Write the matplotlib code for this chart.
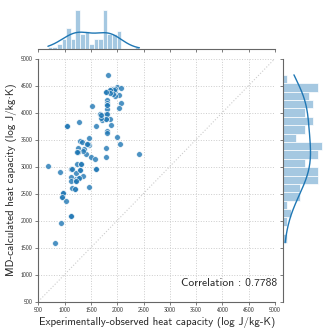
import numpy as np
import matplotlib
matplotlib.use("Agg")
import matplotlib.pyplot as plt
import seaborn as sns

# experimental (x) vs MD-calculated (y) heat capacity
exp_cp = [1825, 1781, 1921, 1952, 2003, 2068, 2035, 1870, 2072, 2035,
          1806, 1813, 1800, 1806, 1527, 1673, 1705, 1794, 1857, 1794,
          1876, 1800, 1806, 1603, 1051, 1279, 2003, 2062, 1463, 1286,
          1336, 1419, 1463, 1248, 1368, 1241, 1413, 1787, 1508, 1584,
          1781, 2422, 1241, 1305, 1114, 1133, 1286, 1590, 683, 905,
          1222, 1114, 1210, 1273, 1356, 1114, 1210, 1203, 1463, 975,
          956, 1032, 1114, 930, 810,
          # overlapping points
          1950, 1930, 1960, 1920, 1860, 1870, 1781, 1800, 1806, 1794,
          1690, 1700, 1590, 1440, 1419, 1305, 1356, 1248, 1241, 1286,
          1273, 1210, 1133, 1203, 975, 956, 1051, 1114]
md_cp = [4697, 4377, 4438, 4395, 4469, 4457, 4327, 4420, 4173, 4087,
         4223, 4173, 4130, 4060, 4118, 3964, 3853, 3964, 3884, 3884,
         3775, 3650, 3619, 3750, 3750, 3816, 3545, 3422, 3520, 3465,
         3446, 3409, 3403, 3341, 3323, 3268, 3237, 3348, 3175, 3132,
         3175, 3237, 3040, 3040, 2960, 2953, 2941, 2960, 3009, 2904,
         2880, 2805, 2775, 2793, 2818, 2731, 2731, 2590, 2614, 2516,
         2429, 2355, 2090, 1949, 1590,
         4440, 4420, 4300, 4350, 4420, 4370, 4377, 4130, 3970, 3884,
         3900, 3960, 2960, 3420, 3409, 3050, 3280, 3260, 3268, 2941,
         2793, 2731, 2600, 2590, 2516, 2430, 3750, 2090]
corr_text = "Correlation : 0.7788"
ticks = np.arange(500, 5001, 500)

sns.set_style("ticks")
plt.rcParams['font.family'] = ['cmss10', 'DejaVu Sans']
plt.rcParams['axes.unicode_minus'] = False

W = 332.0
fig = plt.figure(figsize=(3.32, 3.32), dpi=100)
ax = fig.add_axes([38.3/W, 30.5/W, 236.7/W, 243/W])
ax_top = fig.add_axes([38.3/W, 282.7/W, 236.7/W, 41.3/W], sharex=ax)
ax_right = fig.add_axes([282.7/W, 30.5/W, 41.3/W, 243/W], sharey=ax)

blue = "#1f77b4"
ax.plot([500, 5000], [500, 5000], ls=":", color="0.8", lw=0.8, zorder=0)
ax.scatter(exp_cp, md_cp, s=17, color=blue, alpha=0.8, edgecolor="white", linewidth=0.5, zorder=3)
ax.set_xlim(500, 5000)
ax.set_ylim(500, 5000)
ax.set_xticks(ticks)
ax.set_yticks(ticks)
ax.grid(True, ls=":", color="0.8", lw=0.7)
ax.tick_params(labelsize=4.2, length=2.5, width=0.6, color="0.4", pad=1.5)
for s in ["top", "right"]:
    ax.spines[s].set_visible(False)
for s in ["left", "bottom"]:
    ax.spines[s].set_color("0.4")
    ax.spines[s].set_linewidth(0.8)
ax.set_xlabel("Experimentally-observed heat capacity (log J/kg-K)", fontsize=7.9, labelpad=3)
ax.set_ylabel("MD-calculated heat capacity (log J/kg\u00b7K)", fontsize=7.9, labelpad=3)

hist_kw = dict(bins=20, kde=True, color=blue, alpha=0.4, edgecolor="white", linewidth=0.5,
               kde_kws={"cut": 0, "bw_adjust": 1.5}, line_kws={"lw": 1.0})
sns.histplot(x=exp_cp, ax=ax_top, **hist_kw)
sns.histplot(y=md_cp, ax=ax_right, **hist_kw)

for a in [ax_top, ax_right]:
    a.set_xlabel("")
    a.set_ylabel("")
    a.tick_params(labelbottom=False, labelleft=False, length=2.5, width=0.6, color="0.4")
ax_top.set_yticks([])
ax_right.set_xticks([])
for s in ["top", "right", "left"]:
    ax_top.spines[s].set_visible(False)
for s in ["top", "right", "bottom"]:
    ax_right.spines[s].set_visible(False)
ax_top.spines["bottom"].set_color("0.4")
ax_right.spines["left"].set_color("0.4")

fig.text(277/W, 46/W, corr_text, ha="right", va="baseline", fontsize=8.3)

fig.savefig("out.png", dpi=100)
